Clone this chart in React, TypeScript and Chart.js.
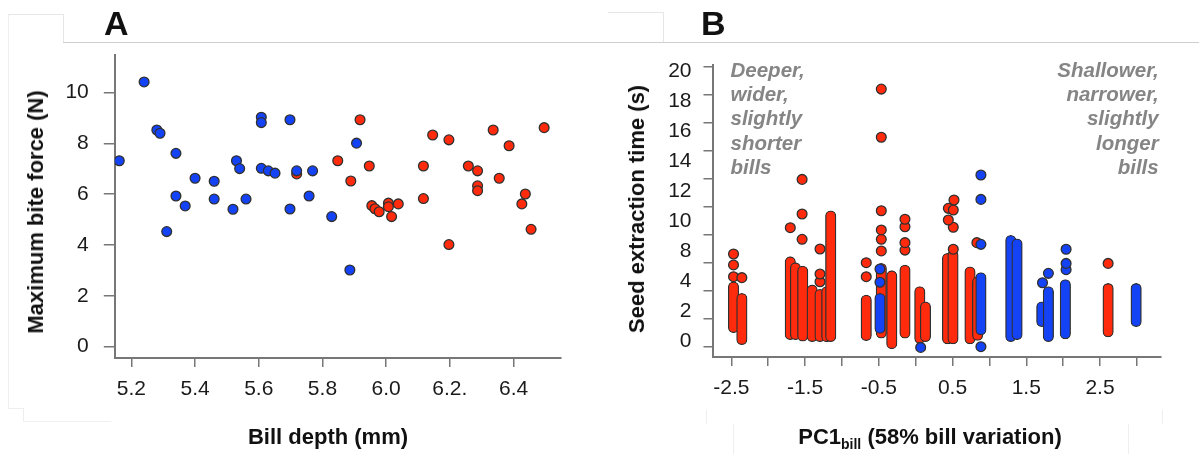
import React, { useEffect, useRef } from "react";
import { Chart, registerables } from "chart.js";

Chart.register(...registerables);

const FONT = "'Liberation Sans', Arial, Helvetica, sans-serif";
const RED = "#ff2b0c";
const BLUE = "#1443f6";
const EDGE = "#303030";
const AXIS = "#777777";
const TICK_TEXT = "#1a1a1a";

// ---------------- Panel A: bite force vs bill depth ----------------
const aBlueDepth = [5.162, 5.24, 5.28, 5.29, 5.34, 5.34, 5.369, 5.311, 5.4, 5.46, 5.46, 5.519, 5.53, 5.54, 5.56, 5.608, 5.608, 5.608, 5.63, 5.651, 5.698, 5.698, 5.719, 5.769, 5.758, 5.829, 5.886, 5.907];
const aBlueForce = [7.32, 10.42, 8.53, 8.4, 7.61, 5.93, 5.54, 4.53, 6.63, 6.51, 5.81, 5.41, 7.32, 7.01, 5.81, 9.03, 8.82, 7.02, 6.92, 6.83, 8.93, 5.42, 6.92, 6.92, 5.93, 5.12, 3.02, 8.01];
const aRedDepth = [5.719, 5.848, 5.889, 5.918, 5.947, 5.955, 5.965, 5.978, 6.007, 6.007, 6.038, 6.017, 6.117, 6.117, 6.146, 6.197, 6.197, 6.258, 6.287, 6.287, 6.287, 6.336, 6.355, 6.386, 6.437, 6.426, 6.455, 6.496];
const aRedForce = [6.8, 7.32, 6.52, 8.93, 7.11, 5.55, 5.43, 5.31, 5.65, 5.51, 5.62, 5.12, 7.11, 5.83, 8.33, 8.14, 4.02, 7.11, 6.92, 6.33, 6.14, 8.53, 6.63, 7.91, 6.01, 5.62, 4.62, 8.62];
const aXTicks = [5.2, 5.4, 5.6, 5.8, 6.0, 6.2, 6.4];
const aXTickLabels = ["5.2", "5.4", "5.6", "5.8", "6.0", "6.2.", "6.4"];
const aYTicks = [0, 2, 4, 6, 8, 10];

// ---------------- Panel B: seed extraction time vs PC1 ----------------
// dense strips of overlapping points, drawn as columns from low to high
const bRedColX = [-2.47, -2.357, -1.7, -1.63, -1.532, -1.403, -1.297, -1.206, -1.152, -0.67, -0.466, -0.324, -0.145, 0.056, 0.133, 0.432, 0.506, 0.737, 0.84, 2.61];
const bRedColLow = [1.0, 0.15, 0.5, 0.5, 0.4, 0.36, 0.36, 0.35, 0.36, 0.43, 0.6, -0.15, 0.6, 0.24, 0.36, 0.2, 0.2, 0.2, 0.45, 0.7];
const bRedColHigh = [4.64, 3.81, 6.43, 6.0, 5.76, 4.41, 4.1, 4.3, 9.7, 3.69, 5.95, 5.43, 5.83, 4.29, 3.21, 6.67, 6.9, 5.7, 5.0, 4.52];
const bRedPtX = [-2.47, -2.47, -2.47, -2.357, -1.7, -1.54, -1.54, -1.54, -1.297, -1.297, -1.297, -0.67, -0.67, -0.466, -0.466, -0.466, -0.466, -0.466, -0.466, -0.145, -0.145, -0.145, -0.145, 0.52, 0.51, 0.443, 0.443, 0.51, 0.51, 0.83, 2.61];
const bRedPtY = [5.0, 5.84, 6.62, 4.93, 8.5, 7.67, 9.48, 11.95, 4.64, 5.19, 6.98, 5.0, 6.0, 6.84, 7.67, 8.34, 9.71, 14.96, 18.4, 6.9, 7.43, 8.57, 9.1, 10.48, 8.53, 9.88, 9.05, 9.76, 6.96, 7.43, 5.95];
const bBlueColX = [-0.484, 0.885, 1.29, 1.375, 1.71, 1.8, 2.03, 2.99];
const bBlueColLow = [0.95, 0.84, 0.36, 0.5, 1.43, 0.36, 0.55, 1.43];
const bBlueColHigh = [3.81, 5.29, 7.95, 7.7, 3.2, 4.29, 4.8, 4.52];
const bBluePtX = [-0.484, -0.484, 0.068, 0.885, 0.885, 0.885, 0.885, 1.72, 1.8, 2.04, 2.04, 2.04];
const bBluePtY = [4.6, 5.55, -0.05, 0.0, 7.31, 10.52, 12.26, 4.57, 5.24, 5.5, 5.95, 6.96];
const bXTicks = [-2.5, -2, -1.5, -1, -0.5, 0, 0.5, 1, 1.5, 2, 2.5, 3];
const bXTickLabels = ["-2.5", "", "-1.5", "", "-0.5", "", "0.5", "", "1.5", "", "2.5", ""];
const bYTicks = [0, 2, 4, 6, 8, 10, 12, 14, 16, 18, 20];
const bYLabelSlots = [0, 1, 2, 3, 4, 5, 6, 7, 8, 9];
const bYLabelTexts = ["0", "2", "4", "8", "10", "12", "14", "16", "18", "20"];

const pts = (xs: number[], ys: number[]) => xs.map((x, i) => ({ x, y: ys[i] }));
const cols = (xs: number[], lo: number[], hi: number[]) => xs.map((x, i) => ({ x, y: [lo[i], hi[i]] }));

const tickFont = { family: FONT, size: 21 };

const gridStyle = (tickLength: number) => ({
  display: true,
  drawOnChartArea: false,
  drawTicks: true,
  tickLength,
  color: AXIS,
  lineWidth: 1.5,
});
const borderStyle = { display: true, color: AXIS, width: 2 };

const pointStyle = (color: string, order: number) => ({
  type: "scatter" as const,
  backgroundColor: color,
  borderColor: EDGE,
  borderWidth: 1.3,
  pointRadius: 4.9,
  order,
});

const barStyle = (color: string, order: number) => ({
  type: "bar" as const,
  backgroundColor: color,
  borderColor: EDGE,
  borderWidth: 1.3,
  borderRadius: 6,
  borderSkipped: false,
  grouped: false,
  barThickness: 10.5,
  order,
});

function PanelA() {
  const ref = useRef<HTMLCanvasElement>(null);
  useEffect(() => {
    const chart = new Chart(ref.current as HTMLCanvasElement, {
      type: "scatter",
      data: {
        datasets: [
          { ...pointStyle(BLUE, 0), data: pts(aBlueDepth, aBlueForce) },
          { ...pointStyle(RED, 1), data: pts(aRedDepth, aRedForce) },
        ],
      },
      options: {
        animation: false,
        responsive: false,
        devicePixelRatio: 1,
        events: [],
        layout: { padding: { top: 55, right: 39.3, bottom: 0, left: 0 } },
        plugins: { legend: { display: false }, tooltip: { enabled: false } },
        scales: {
          x: {
            type: "linear",
            min: 5.148,
            max: 6.548,
            offset: false,
            grid: gridStyle(9),
            border: borderStyle,
            afterBuildTicks: (s: any) => {
              s.ticks = aXTicks.map((v) => ({ value: v }));
            },
            afterFit: (s: any) => {
              s.height = 96;
            },
            ticks: {
              font: tickFont,
              color: TICK_TEXT,
              padding: 10,
              autoSkip: false,
              maxRotation: 0,
              minRotation: 0,
              callback: (_v: any, i: number) => aXTickLabels[i],
            },
          },
          y: {
            type: "linear",
            min: -0.445,
            max: 11.48,
            grid: gridStyle(11),
            border: borderStyle,
            afterBuildTicks: (s: any) => {
              s.ticks = aYTicks.map((v) => ({ value: v }));
            },
            afterFit: (s: any) => {
              s.width = 114.8;
            },
            ticks: {
              font: tickFont,
              color: TICK_TEXT,
              padding: 15,
              autoSkip: false,
              callback: (v: any) => String(v),
            },
          },
        },
      },
    } as any);
    return () => chart.destroy();
  }, []);
  return (
    <canvas
      ref={ref}
      width={600}
      height={454}
      style={{ position: "absolute", left: 0, top: 0, width: 600, height: 454 }}
    />
  );
}

function PanelB() {
  const ref = useRef<HTMLCanvasElement>(null);
  useEffect(() => {
    const chart = new Chart(ref.current as HTMLCanvasElement, {
      type: "scatter",
      data: {
        datasets: [
          { ...pointStyle(BLUE, 0), data: pts(bBluePtX, bBluePtY) },
          { ...barStyle(BLUE, 1), data: cols(bBlueColX, bBlueColLow, bBlueColHigh) },
          { ...pointStyle(RED, 2), data: pts(bRedPtX, bRedPtY) },
          { ...barStyle(RED, 3), data: cols(bRedColX, bRedColLow, bRedColHigh) },
        ],
      },
      options: {
        animation: false,
        responsive: false,
        devicePixelRatio: 1,
        events: [],
        layout: { padding: { top: 65, right: 38.3, bottom: 0, left: 0 } },
        plugins: { legend: { display: false }, tooltip: { enabled: false } },
        scales: {
          x: {
            type: "linear",
            min: -2.755,
            max: 3.323,
            offset: false,
            grid: { ...gridStyle(9), offset: false },
            border: borderStyle,
            afterBuildTicks: (s: any) => {
              s.ticks = bXTicks.map((v) => ({ value: v }));
            },
            afterFit: (s: any) => {
              s.height = 97;
            },
            ticks: {
              font: tickFont,
              color: TICK_TEXT,
              padding: 10,
              autoSkip: false,
              maxRotation: 0,
              minRotation: 0,
              callback: (_v: any, i: number) => bXTickLabels[i],
            },
          },
          y: {
            type: "linear",
            position: "left",
            weight: 0,
            min: -0.736,
            max: 20.12,
            grid: gridStyle(9),
            border: borderStyle,
            afterBuildTicks: (s: any) => {
              s.ticks = bYTicks.map((v) => ({ value: v }));
            },
            afterFit: (s: any) => {
              s.width = 9;
            },
            ticks: { display: false, autoSkip: false },
          },
          yLabels: {
            type: "linear",
            position: "left",
            weight: 1,
            min: -0.509,
            max: 9.199,
            grid: { display: false, drawTicks: false, drawOnChartArea: false },
            border: { display: false },
            afterBuildTicks: (s: any) => {
              s.ticks = bYLabelSlots.map((v) => ({ value: v }));
            },
            afterFit: (s: any) => {
              s.width = 103.5;
            },
            ticks: {
              font: tickFont,
              color: TICK_TEXT,
              padding: 12,
              autoSkip: false,
              callback: (_v: any, i: number) => bYLabelTexts[i],
            },
          },
        },
      },
    } as any);
    return () => chart.destroy();
  }, []);
  return (
    <canvas
      ref={ref}
      width={599}
      height={454}
      style={{ position: "absolute", left: 600, top: 0, width: 599, height: 454 }}
    />
  );
}

const line = (left: number, top: number, width: number, height: number, color: string) => (
  <div style={{ position: "absolute", left, top, width, height, background: color }} />
);

const titleBase: React.CSSProperties = {
  position: "absolute",
  fontFamily: FONT,
  fontWeight: 700,
  fontSize: 22,
  lineHeight: 1,
  color: "#111",
  whiteSpace: "nowrap",
};

const noteBase: React.CSSProperties = {
  position: "absolute",
  fontFamily: FONT,
  fontWeight: 700,
  fontStyle: "italic",
  fontSize: 20.5,
  lineHeight: "24.2px",
  color: "#858585",
  whiteSpace: "pre",
};

export default function App() {
  return (
    <div
      style={{
        position: "fixed",
        left: 0,
        top: 0,
        width: 1199,
        height: 454,
        background: "#ffffff",
        overflow: "hidden",
      }}
    >
      {/* faint layout frame lines */}
      {line(63, 42, 1136, 1, "#cfcfcf")}
      {line(8, 14, 55, 1, "#e6e6e6")}
      {line(63, 14, 1, 28, "#e6e6e6")}
      {line(8, 14, 1, 394, "#eeeeee")}
      {line(8, 408, 15, 1, "#eeeeee")}
      {line(23, 408, 1, 13, "#eeeeee")}
      {line(23, 421, 88, 1, "#f0f0f0")}
      {line(608, 12, 55, 1, "#e6e6e6")}
      {line(663, 12, 1, 30, "#e6e6e6")}
      {line(706, 410, 1, 14, "#eeeeee")}
      {line(1162, 410, 1, 14, "#eeeeee")}
      {line(733, 424, 1, 30, "#eeeeee")}
      {line(1128, 424, 1, 30, "#eeeeee")}

      <PanelA />
      <PanelB />

      {/* panel letters */}
      <div style={{ ...titleBase, left: 104, top: 5.5, fontSize: 34 }}>A</div>
      <div style={{ ...titleBase, left: 701, top: 5.5, fontSize: 34 }}>B</div>

      {/* axis titles */}
      <div style={{ ...titleBase, left: 36, top: 212, transform: "translate(-50%, -50%) rotate(-90deg)" }}>
        Maximum bite force (N)
      </div>
      <div style={{ ...titleBase, left: 328, top: 437, transform: "translate(-50%, -50%)" }}>
        Bill depth (mm)
      </div>
      <div style={{ ...titleBase, left: 637, top: 209, transform: "translate(-50%, -50%) rotate(-90deg)" }}>
        Seed extraction time (s)
      </div>
      <div style={{ ...titleBase, left: 930, top: 437, transform: "translate(-50%, -50%)" }}>
        PC1<span style={{ fontSize: 14, position: "relative", top: 5 }}>bill</span> (58% bill variation)
      </div>

      {/* in-plot annotations */}
      <div style={{ ...noteBase, left: 730.5, top: 57.9, textAlign: "left" }}>
        {"Deeper,\nwider,\nslightly\nshorter\nbills"}
      </div>
      <div style={{ ...noteBase, right: 40.3, top: 57.9, textAlign: "right" }}>
        {"Shallower,\nnarrower,\nslightly\nlonger\nbills"}
      </div>
    </div>
  );
}
